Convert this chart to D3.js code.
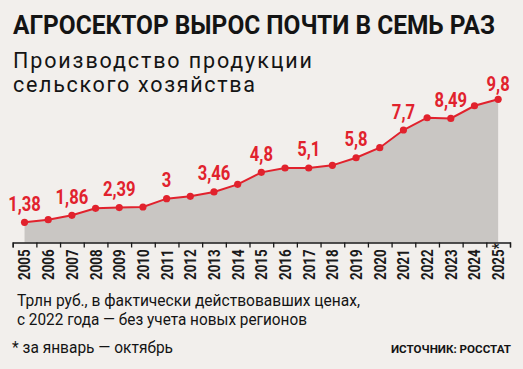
<!DOCTYPE html>
<html><head><meta charset="utf-8">
<script src="https://cdn.jsdelivr.net/npm/d3@7"></script>
<style>
html,body{margin:0;padding:0;background:#f2efec;}
svg{display:block;}
text{font-family:Roboto,"Liberation Sans",sans-serif;}
</style></head>
<body>
<script>
const years = ["2005","2006","2007","2008","2009","2010","2011","2012","2013","2014","2015","2016","2017","2018","2019","2020","2021","2022","2023","2024","2025*"];
const values = [1.38,1.56,1.86,2.34,2.39,2.43,3.0,3.16,3.46,3.98,4.8,5.1,5.1,5.28,5.8,6.49,7.7,8.54,8.49,9.36,9.8];
const valueLabels = ["1,38","","1,86","","2,39","","3","","3,46","","4,8","","5,1","","5,8","","7,7","","8,49","","9,8"];
const title = "АГРОСЕКТОР ВЫРОС ПОЧТИ В СЕМЬ РАЗ";
const subtitle = ["Производство продукции","сельского хозяйства"];
const note = ["Трлн руб., в фактически действовавших ценах,","с 2022 года — без учета новых регионов"];
const footnote = "* за январь — октябрь";
const source = "ИСТОЧНИК: РОССТАТ";

const W=523,H=369;
const red="#e1222d";
const ink="#141414";
const svg=d3.select("body").append("svg").attr("width",W).attr("height",H);
svg.append("rect").attr("width",W).attr("height",H).attr("fill","#f2efec");

function fit(sel, len, mode){ sel.attr("textLength",len).attr("lengthAdjust",mode||"spacingAndGlyphs"); return sel; }
function condense(sel, f){ sel.each(function(){ const w=this.getComputedTextLength(); d3.select(this).attr("textLength",w*f).attr("lengthAdjust","spacingAndGlyphs"); }); }

fit(svg.append("text").attr("x",13).attr("y",34.3).attr("font-size",25).attr("font-weight","bold").attr("fill",ink).text(title),482);
const sub=[{t:subtitle[0],y:68.3,w:299},{t:subtitle[1],y:91.7,w:242}];
sub.forEach(s=>{
  fit(svg.append("text").attr("x",13).attr("y",s.y).attr("font-size",21.5).attr("fill",ink).text(s.t),s.w,"spacing");
});

const baseY=242.5;
const x=d3.scaleBand().domain(years).range([12.7,510]).padding(0);
const cx=d=>x(d)+x.bandwidth()/2;
const y=d3.scaleLinear().domain([0,10]).range([baseY,baseY-146.1]);
const data=years.map((yr,i)=>({yr,v:values[i],lab:valueLabels[i]}));

svg.append("path").datum(data).attr("fill","#c9c6c3")
  .attr("d",d3.area().x(d=>cx(d.yr)).y0(baseY).y1(d=>y(d.v)));
svg.append("path").datum(data).attr("fill","none").attr("stroke",red).attr("stroke-width",2)
  .attr("d",d3.line().x(d=>cx(d.yr)).y(d=>y(d.v)));
svg.selectAll("circle.pt").data(data).join("circle").attr("class","pt")
  .attr("cx",d=>cx(d.yr)).attr("cy",d=>y(d.v)).attr("r",3.6).attr("fill",red);
const labs=svg.selectAll("text.lab").data(data.filter(d=>d.lab)).join("text").attr("class","lab")
  .attr("x",d=>cx(d.yr)).attr("y",(d,i,arr)=>y(d.v)-(i===arr.length-1?8:11.5))
  .attr("text-anchor","middle").attr("font-size",20).attr("font-weight","bold").attr("fill",red).text(d=>d.lab);
condense(labs,0.83);

// boundary ticks
const xb=d3.scaleLinear().domain([0,years.length]).range([12.7,510]);
const gAx=svg.append("g").attr("transform",`translate(0,${baseY})`)
  .call(d3.axisBottom(xb).tickValues(d3.range(years.length+1)).tickSizeInner(5).tickSizeOuter(5).tickFormat(""));
gAx.selectAll("path,line").attr("stroke","#1a1a1a").attr("stroke-width",1.3);
const gLab=svg.append("g").attr("transform",`translate(0,${baseY})`)
  .call(d3.axisBottom(x).tickSize(0));
gLab.select(".domain").remove();
const yt=gLab.selectAll("text").attr("transform","rotate(-90)").attr("x",-37.5).attr("y",0).attr("dy","0.36em")
  .attr("text-anchor","start").attr("font-size",16.5).attr("font-weight","bold").attr("fill","#1a1a1a")
  .attr("font-family","Roboto,sans-serif");
condense(yt,0.81);

fit(svg.append("text").attr("x",17).attr("y",306).attr("font-size",17).attr("fill",ink).text(note[0]),343);
fit(svg.append("text").attr("x",17).attr("y",325).attr("font-size",17).attr("fill",ink).text(note[1]),290);
fit(svg.append("text").attr("x",12).attr("y",352.5).attr("font-size",17).attr("fill",ink).text(footnote),161);
fit(svg.append("text").attr("x",391).attr("y",352.5).attr("font-size",11.5).attr("font-weight","bold").attr("fill",ink).text(source),120);
</script>
</body></html>
